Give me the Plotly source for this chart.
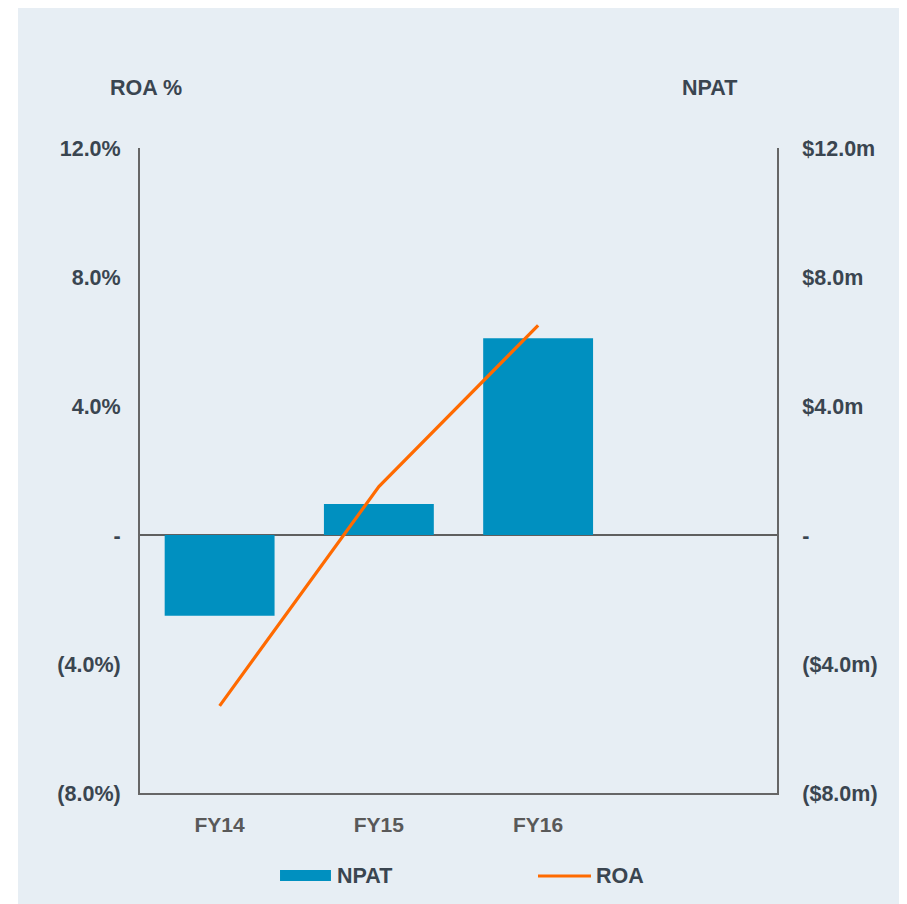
import plotly.graph_objects as go

# data
years = ["FY14", "FY15", "FY16"]
npat_m = [-2.5, 0.96, 6.1]      # NPAT, $m
roa_pct = [-5.3, 1.5, 6.5]      # ROA, %

tick_vals = [-8, -4, 0, 4, 8, 12]
roa_ticks = ["(8.0%)", "(4.0%)", "-", "4.0%", "8.0%", "12.0%"]
npat_ticks = ["($8.0m)", "($4.0m)", "-", "$4.0m", "$8.0m", "$12.0m"]

BAR = "#0090C0"
ORANGE = "#FF6A00"
PANEL = "#E7EEF4"
TXT = "#3A4550"
AXIS = "#666666"
FONT = "Liberation Sans, Arial, sans-serif"

fig = go.Figure()

# NPAT bars on the primary (right-hand) axis
fig.add_trace(go.Bar(
    x=years, y=npat_m,
    marker=dict(color=BAR, line=dict(width=0)),
    name="NPAT", yaxis="y", showlegend=False
))

# ROA line on the overlay (left-hand) axis, drawn on top of the bars
fig.add_trace(go.Scatter(
    x=years, y=roa_pct,
    mode="lines",
    line=dict(color=ORANGE, width=3.2),
    name="ROA", yaxis="y2", showlegend=False
))

tick_font = dict(family=FONT, size=21.5, color=TXT, weight="bold")

fig.update_layout(
    width=907, height=904,
    margin=dict(l=132, r=138, t=140, b=119),
    paper_bgcolor="white",
    plot_bgcolor=PANEL,
    font=dict(family=FONT, color=TXT),
    bargap=0.31,
    xaxis=dict(
        type="category", range=[-0.5, 3.5],
        showline=True, linecolor=AXIS, linewidth=2,
        showgrid=False, ticks="",
        tickfont=dict(family=FONT, size=21, color="#595959", weight="bold"),
        ticklabelstandoff=12,
    ),
    yaxis=dict(
        side="right", range=[-8, 12],
        tickvals=tick_vals, ticktext=npat_ticks,
        showline=True, linecolor=AXIS, linewidth=2,
        showgrid=False, ticks="",
        zeroline=True, zerolinecolor="#5F5F5F", zerolinewidth=2,
        tickfont=tick_font, ticklabelstandoff=19,
    ),
    yaxis2=dict(
        side="left", overlaying="y", range=[-8, 12],
        tickvals=tick_vals, ticktext=roa_ticks,
        showline=True, linecolor=AXIS, linewidth=2,
        showgrid=False, ticks="", zeroline=False,
        tickfont=tick_font, ticklabelstandoff=13,
    ),
)

# light panel behind the whole chart
fig.add_shape(type="rect", xref="paper", yref="paper",
              x0=-0.1915, x1=1.1994, y0=-0.19, y1=1.2202,
              fillcolor=PANEL, line=dict(width=0), layer="below")

head_font = dict(family=FONT, size=21.5, color=TXT, weight="bold")

# axis headers
fig.add_annotation(text="ROA %", xref="paper", yref="paper",
                   x=0.0094, y=1.093, xanchor="center", yanchor="middle",
                   showarrow=False, font=head_font)
fig.add_annotation(text="NPAT", xref="paper", yref="paper",
                   x=0.8948, y=1.093, xanchor="center", yanchor="middle",
                   showarrow=False, font=head_font)

# legend (wide swatches as in the original)
fig.add_shape(type="rect", xref="paper", yref="paper",
              x0=0.2198, x1=0.2998, y0=-0.1364, y1=-0.1194,
              fillcolor=BAR, line=dict(width=0))
fig.add_annotation(text="NPAT", xref="paper", yref="paper",
                   x=0.3063, y=-0.1287, xanchor="left", yanchor="middle",
                   showarrow=False, font=head_font)
fig.add_shape(type="line", xref="paper", yref="paper",
              x0=0.6248, x1=0.7080, y0=-0.1287, y1=-0.1287,
              line=dict(color=ORANGE, width=3.2))
fig.add_annotation(text="ROA", xref="paper", yref="paper",
                   x=0.7129, y=-0.1287, xanchor="left", yanchor="middle",
                   showarrow=False, font=head_font)

fig.write_html("out.html")
